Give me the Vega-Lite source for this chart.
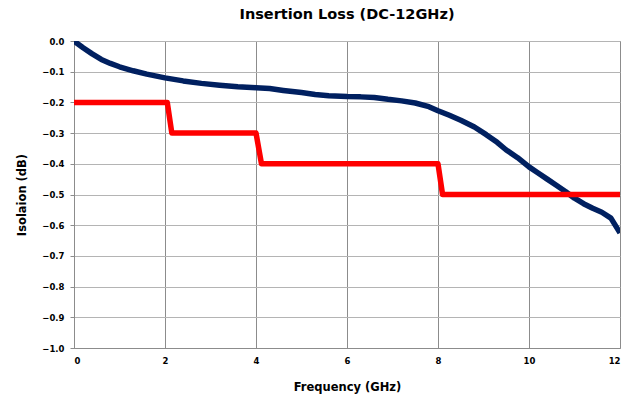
{
  "$schema": "https://vega.github.io/schema/vega-lite/v6.json",
  "width": 546,
  "height": 307,
  "autosize": "none",
  "padding": {"left": 74, "top": 41, "right": 7, "bottom": 56},
  "background": "white",
  "config": {
    "font": "DejaVu Sans",
    "view": {"stroke": "#8c8c8c", "strokeWidth": 1}
  },
  "title": {"text": "Insertion Loss (DC-12GHz)", "fontSize": 14.5, "fontWeight": "bold", "font": "DejaVu Sans", "color": "#000", "offset": 15, "anchor": "middle"},
  "data": {"values": [
    {"f": 0, "v": 0, "s": "IL"},
    {"f": 0.2, "v": -0.022, "s": "IL"},
    {"f": 0.4, "v": -0.042, "s": "IL"},
    {"f": 0.6, "v": -0.06, "s": "IL"},
    {"f": 0.8, "v": -0.073, "s": "IL"},
    {"f": 1.0, "v": -0.084, "s": "IL"},
    {"f": 1.3, "v": -0.097, "s": "IL"},
    {"f": 1.6, "v": -0.108, "s": "IL"},
    {"f": 2.0, "v": -0.12, "s": "IL"},
    {"f": 2.4, "v": -0.13, "s": "IL"},
    {"f": 2.8, "v": -0.138, "s": "IL"},
    {"f": 3.2, "v": -0.144, "s": "IL"},
    {"f": 3.6, "v": -0.149, "s": "IL"},
    {"f": 4.0, "v": -0.152, "s": "IL"},
    {"f": 4.3, "v": -0.155, "s": "IL"},
    {"f": 4.6, "v": -0.161, "s": "IL"},
    {"f": 5.0, "v": -0.168, "s": "IL"},
    {"f": 5.3, "v": -0.174, "s": "IL"},
    {"f": 5.6, "v": -0.178, "s": "IL"},
    {"f": 6.0, "v": -0.181, "s": "IL"},
    {"f": 6.3, "v": -0.182, "s": "IL"},
    {"f": 6.6, "v": -0.184, "s": "IL"},
    {"f": 6.9, "v": -0.19, "s": "IL"},
    {"f": 7.2, "v": -0.195, "s": "IL"},
    {"f": 7.5, "v": -0.202, "s": "IL"},
    {"f": 7.8, "v": -0.214, "s": "IL"},
    {"f": 8.0, "v": -0.227, "s": "IL"},
    {"f": 8.25, "v": -0.242, "s": "IL"},
    {"f": 8.5, "v": -0.258, "s": "IL"},
    {"f": 8.8, "v": -0.28, "s": "IL"},
    {"f": 9.06, "v": -0.305, "s": "IL"},
    {"f": 9.3, "v": -0.33, "s": "IL"},
    {"f": 9.5, "v": -0.355, "s": "IL"},
    {"f": 9.75, "v": -0.38, "s": "IL"},
    {"f": 10.0, "v": -0.41, "s": "IL"},
    {"f": 10.2, "v": -0.43, "s": "IL"},
    {"f": 10.4, "v": -0.45, "s": "IL"},
    {"f": 10.6, "v": -0.47, "s": "IL"},
    {"f": 10.8, "v": -0.49, "s": "IL"},
    {"f": 11.0, "v": -0.512, "s": "IL"},
    {"f": 11.2, "v": -0.53, "s": "IL"},
    {"f": 11.4, "v": -0.545, "s": "IL"},
    {"f": 11.6, "v": -0.558, "s": "IL"},
    {"f": 11.8, "v": -0.577, "s": "IL"},
    {"f": 12.0, "v": -0.625, "s": "IL"},
    {"f": 0, "v": -0.2, "s": "Spec"},
    {"f": 2.05, "v": -0.2, "s": "Spec"},
    {"f": 2.15, "v": -0.3, "s": "Spec"},
    {"f": 4.0, "v": -0.3, "s": "Spec"},
    {"f": 4.12, "v": -0.4, "s": "Spec"},
    {"f": 8.0, "v": -0.4, "s": "Spec"},
    {"f": 8.1, "v": -0.5, "s": "Spec"},
    {"f": 12.0, "v": -0.5, "s": "Spec"}
  ]},
  "mark": {"type": "line", "strokeWidth": 5.5, "strokeJoin": "round", "clip": true},
  "encoding": {
    "x": {
      "field": "f", "type": "quantitative",
      "scale": {"domain": [0, 12], "nice": false, "zero": false},
      "axis": {
        "title": "Frequency (GHz)", "values": [0, 2, 4, 6, 8, 10, 12], "format": "d",
        "grid": true, "gridColor": "#8c8c8c", "gridWidth": 1,
        "domainColor": "#8c8c8c", "ticks": false, "labelPadding": 8,
        "labelFontSize": 8.5, "labelFontWeight": "bold", "labelColor": "#000", "labelFont": "DejaVu Sans",
        "titleFontSize": 11.5, "titleFontWeight": "bold", "titleColor": "#000", "titleFont": "DejaVu Sans", "titlePadding": 17
      }
    },
    "y": {
      "field": "v", "type": "quantitative",
      "scale": {"domain": [-1, 0], "nice": false, "zero": false},
      "axis": {
        "title": "Isolaion (dB)", "values": [0, -0.1, -0.2, -0.3, -0.4, -0.5, -0.6, -0.7, -0.8, -0.9, -1.0], "format": ".1f",
        "grid": true, "gridColor": "#b4b4b4", "gridWidth": 1,
        "domainColor": "#8c8c8c", "ticks": true, "tickColor": "#8c8c8c", "tickSize": 4, "labelPadding": 6,
        "labelFontSize": 8.5, "labelFontWeight": "bold", "labelColor": "#000", "labelFont": "DejaVu Sans",
        "titleFontSize": 11.5, "titleFontWeight": "bold", "titleColor": "#000", "titleFont": "DejaVu Sans", "titlePadding": 14
      }
    },
    "color": {
      "field": "s", "type": "nominal",
      "scale": {"domain": ["IL", "Spec"], "range": ["#002060", "#ff0000"]},
      "legend": null
    },
    "order": {"field": "f", "type": "quantitative"}
  }
}
